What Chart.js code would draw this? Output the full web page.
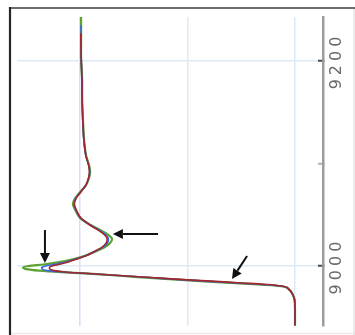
<!DOCTYPE html>
<html>
<head>
<meta charset="utf-8">
<script src="https://cdn.jsdelivr.net/npm/chart.js@4/dist/chart.umd.min.js"></script>
<style>
  html, body { margin: 0; padding: 0; background: #ffffff; }
  #wrap { width: 355px; height: 335px; position: relative; }
</style>
</head>
<body>
<div id="wrap"><canvas id="c" width="355" height="335"></canvas></div>
<script>
// Photon energy (eV) of each sample point
const energy = [8942, 8957, 8967, 8972, 8975.5, 8977.5, 8979, 8980.5, 8982, 8983.5,
  8985, 8986.5, 8988, 8989.5, 8991, 8992.5, 8994, 8995.5, 8997, 8998.5,
  9000, 9001.5, 9004, 9007, 9010, 9014, 9018.5, 9022.5, 9026.5, 9030,
  9035, 9040, 9047, 9055, 9060.5, 9066, 9072, 9079, 9086, 9092,
  9098.5, 9108, 9123, 9142, 9162, 9181, 9201, 9220, 9227, 9235, 9243];

// Normalised absorption of the three spectra
const absGreen = [0.000, 0.000, 0.002, 0.010, 0.020, 0.030, 0.040, 0.075, 0.170, 0.300,
  0.420, 0.530, 0.640, 0.750, 0.850, 0.960, 1.090, 1.190, 1.250, 1.265,
  1.240, 1.170, 1.090, 1.025, 0.977, 0.930, 0.884, 0.860, 0.851, 0.865,
  0.905, 0.950, 1.000, 1.023, 1.033, 1.023, 1.000, 0.972, 0.958, 0.953,
  0.958, 0.972, 0.981, 0.986, 0.990, 0.990, 0.995, 0.995, 0.995, 0.995, 0.995];

const absBlue = [0.000, 0.000, 0.002, 0.010, 0.020, 0.030, 0.038, 0.065, 0.150, 0.275,
  0.400, 0.515, 0.625, 0.735, 0.840, 0.950, 1.070, 1.150, 1.175, 1.178,
  1.160, 1.120, 1.065, 1.015, 0.975, 0.935, 0.893, 0.872, 0.868, 0.878,
  0.910, 0.952, 0.998, 1.020, 1.028, 1.020, 0.998, 0.972, 0.960, 0.955,
  0.960, 0.973, 0.982, 0.987, 0.990, 0.990, 0.994, 0.995, 0.995, 0.995, null];

const absRed = [0.000, 0.000, 0.002, 0.010, 0.020, 0.030, 0.035, 0.060, 0.130, 0.250,
  0.370, 0.500, 0.610, 0.725, 0.835, 0.945, 1.060, 1.120, 1.140, 1.142,
  1.130, 1.100, 1.055, 1.010, 0.972, 0.935, 0.897, 0.878, 0.874, 0.884,
  0.915, 0.955, 0.997, 1.018, 1.026, 1.018, 0.997, 0.972, 0.960, 0.956,
  0.960, 0.973, 0.982, 0.987, 0.990, 0.991, 0.994, 0.996, 0.996, null, null];

// Axis ticks
const energyTicks = [9000, 9100, 9200];
const energyLabels = ['9000', '', '9200'];
const absTicks = [0, 0.5, 1];

// Pointer arrows: [fromAbs, fromE, toAbs, toE]
const arrows = [
  [1.163, 9035.1, 1.163, 9002.9],
  [0.637, 9031.2, 0.847, 9031.2],
  [0.223, 9009.8, 0.293, 8987.3]
];

function series(values) {
  return energy.map((e, i) => ({ x: values[i], y: values[i] === null ? null : e }));
}

const spacing = {
  id: 'spacing',
  beforeLayout(chart) { chart.ctx.letterSpacing = '4px'; },
  beforeDraw(chart) { chart.ctx.letterSpacing = '4px'; }
};

const frame = {
  id: 'frame',
  afterDraw(chart) {
    const ctx = chart.ctx;
    ctx.save();
    ctx.lineCap = 'butt';
    ctx.strokeStyle = '#eee6e8';
    ctx.lineWidth = 1.5;
    ctx.beginPath(); ctx.moveTo(10, 333.5); ctx.lineTo(355, 333.5); ctx.stroke();
    ctx.strokeStyle = '#e4e4e4';
    ctx.beginPath(); ctx.moveTo(354, 8); ctx.lineTo(354, 335); ctx.stroke();
    ctx.strokeStyle = '#6e6e6e';
    ctx.lineWidth = 2;
    ctx.beginPath(); ctx.moveTo(9, 8); ctx.lineTo(355, 8); ctx.stroke();
    ctx.strokeStyle = '#262626';
    ctx.lineWidth = 2.2;
    ctx.beginPath(); ctx.moveTo(10, 7); ctx.lineTo(10, 335); ctx.stroke();
    ctx.restore();
  }
};

const pointers = {
  id: 'pointers',
  afterDatasetsDraw(chart) {
    const ctx = chart.ctx;
    const sx = chart.scales.x, sy = chart.scales.y;
    ctx.save();
    ctx.strokeStyle = '#111';
    ctx.fillStyle = '#111';
    ctx.lineWidth = 2;
    arrows.forEach(([a0, e0, a1, e1]) => {
      const x0 = sx.getPixelForValue(a0), y0 = sy.getPixelForValue(e0);
      const x1 = sx.getPixelForValue(a1), y1 = sy.getPixelForValue(e1);
      const ang = Math.atan2(y1 - y0, x1 - x0);
      const head = 10, half = 5;
      const bx = x1 - head * Math.cos(ang), by = y1 - head * Math.sin(ang);
      ctx.beginPath(); ctx.moveTo(x0, y0); ctx.lineTo(bx, by); ctx.stroke();
      ctx.beginPath();
      ctx.moveTo(x1, y1);
      ctx.lineTo(bx + half * Math.sin(ang), by - half * Math.cos(ang));
      ctx.lineTo(bx - half * Math.sin(ang), by + half * Math.cos(ang));
      ctx.closePath(); ctx.fill();
    });
    ctx.restore();
  }
};

new Chart(document.getElementById('c'), {
  type: 'scatter',
  data: {
    datasets: [
      { label: 'red', data: series(absRed), borderColor: '#a3262b', borderWidth: 1.6 },
      { label: 'blue', data: series(absBlue), borderColor: '#3567e6', borderWidth: 1.6 },
      { label: 'green', data: series(absGreen), borderColor: '#5ea232', borderWidth: 2.2 }
    ]
  },
  options: {
    responsive: false,
    animation: false,
    devicePixelRatio: 1,
    showLine: true,
    elements: { point: { radius: 0 }, line: { tension: 0.25 } },
    layout: { padding: { left: 17, top: 17, right: 0, bottom: 9 } },
    plugins: { legend: { display: false }, tooltip: { enabled: false } },
    scales: {
      x: {
        type: 'linear', reverse: true, min: -0.1302, max: 1.2930,
        afterBuildTicks: s => { s.ticks = absTicks.map(v => ({ value: v })); },
        ticks: { display: false },
        grid: {
          drawTicks: false, lineWidth: 1.5,
          color: c => (c.tick && c.tick.value === 1) ? '#dcdcf3' : '#dde9f6'
        },
        border: { display: false },
        afterFit: s => { s.height = 0; }
      },
      y: {
        type: 'linear', position: 'right', min: 8941.5, max: 9242.9,
        afterBuildTicks: s => { s.ticks = energyTicks.map(v => ({ value: v })); },
        ticks: {
          minRotation: 90, maxRotation: 90, crossAlign: 'center', padding: -10,
          color: '#6a6a6a', font: { family: 'DejaVu Sans', size: 16 },
          callback: (v) => energyLabels[energyTicks.indexOf(v)] || ''
        },
        grid: {
          tickLength: -5, lineWidth: 1.5,
          color: c => (c.tick && c.tick.value === 9100) ? 'rgba(0,0,0,0)' : '#dbeaf6',
          tickColor: c => (c.tick && c.tick.value === 9100) ? '#b0b0b0' : '#4a4a4a',
          tickWidth: 2
        },
        border: { color: '#9c9c9c', width: 2.5 },
        afterFit: s => { s.width = 32; }
      }
    }
  },
  plugins: [spacing, pointers, frame]
});
</script>
</body>
</html>
